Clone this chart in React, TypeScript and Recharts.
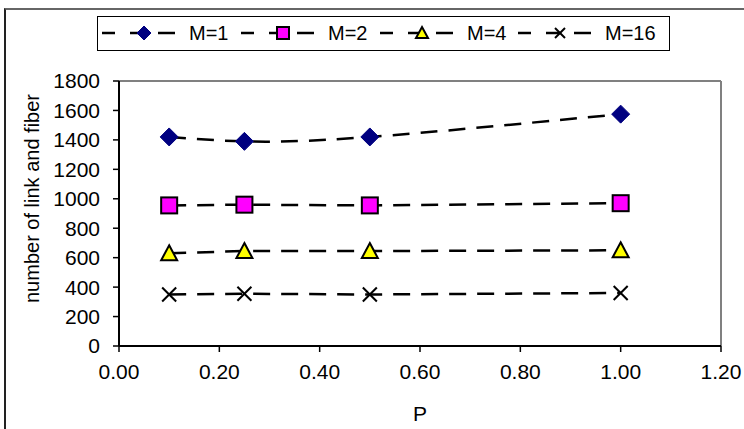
import React from 'react';
import { LineChart, Line, XAxis, YAxis, Legend, ReferenceLine } from 'recharts';

const pValues = [0.1, 0.25, 0.5, 1.0];
const m1 = [1420, 1390, 1420, 1575];
const m2 = [955, 960, 955, 970];
const m4 = [630, 645, 645, 650];
const m16 = [350, 355, 350, 360];

const xTicks = [0, 0.2, 0.4, 0.6, 0.8, 1.0, 1.2];
const yTicks = [0, 200, 400, 600, 800, 1000, 1200, 1400, 1600, 1800];

const seriesNames = ['M=1', 'M=2', 'M=4', 'M=16'];

const data = pValues.map((p, i) => ({ p, m1: m1[i], m2: m2[i], m4: m4[i], m16: m16[i] }));

const FONT = '"Liberation Sans", Arial, sans-serif';
const FS = 20;
const TICK_FS = 21;

// marker shapes, s = half size
const drawMarker = (kind: string, cx: number, cy: number, s: number, key?: any) => {
  if (kind === 'diamond') {
    return (
      <polygon key={key} points={`${cx},${cy - s} ${cx + s},${cy} ${cx},${cy + s} ${cx - s},${cy}`} fill="#000080" stroke="#000080" strokeWidth={1} />
    );
  }
  if (kind === 'square') {
    const h = s - 1;
    return <rect key={key} x={cx - h} y={cy - h} width={h * 2} height={h * 2} fill="#FF00FF" stroke="#000" strokeWidth={2} />;
  }
  if (kind === 'triangle') {
    const h = s - 1;
    return (
      <polygon key={key} points={`${cx},${cy - h} ${cx + h},${cy + h - 1} ${cx - h},${cy + h - 1}`} fill="#FFFF00" stroke="#000" strokeWidth={2} strokeLinejoin="miter" />
    );
  }
  const h = s - 2;
  return (
    <g key={key} stroke="#000" strokeWidth={2}>
      <line x1={cx - h} y1={cy - h} x2={cx + h} y2={cy + h} />
      <line x1={cx - h} y1={cy + h} x2={cx + h} y2={cy - h} />
    </g>
  );
};

const markerKinds = ['diamond', 'square', 'triangle', 'cross'];

const makeDot = (kind: string) => (props: any) => drawMarker(kind, props.cx, props.cy, 9, `${kind}-${props.index}`);

const LegendBox = () => {
  const centers = [144, 283, 422, 560];
  const left = 97;
  return (
    <div style={{ width: 573, height: 35, border: '1px solid #000', boxSizing: 'border-box', background: '#fff' }}>
      <svg width={571} height={33}>
        {centers.map((c, i) => {
          const x = c - left - 1;
          const y = 16;
          return (
            <g key={i}>
              <g stroke="#000" strokeWidth={2.5}>
                <line x1={x - 42} y1={y} x2={x - 29} y2={y} />
                <line x1={x - 14} y1={y} x2={x} y2={y} />
                <line x1={x + 14} y1={y} x2={x + 31} y2={y} />
              </g>
              {drawMarker(markerKinds[i], x, y, 7)}
              <text x={x + 45} y={y + 7} fontSize={FS} fontFamily={FONT} fill="#000">
                {seriesNames[i]}
              </text>
            </g>
          );
        })}
      </svg>
    </div>
  );
};

const App = () => {
  const dash = '17 11';
  return (
    <div style={{ position: 'absolute', left: 0, top: 0, width: 744, height: 429, overflow: 'hidden', background: '#fff' }}>
      <div
        style={{
          position: 'absolute',
          left: 4,
          top: 8,
          width: 800,
          height: 500,
          borderLeft: '2px solid #222',
          borderTop: '2px solid #666',
        }}
      />
      <div style={{ position: 'absolute', left: 0, top: 0 }}>
        <LineChart width={744} height={429} data={data} margin={{ top: 81, right: 23, bottom: 7, left: 0 }}>
          <XAxis
            dataKey="p"
            type="number"
            domain={[0, 1.2]}
            ticks={xTicks}
            interval={0}
            tickFormatter={(v: number) => v.toFixed(2)}
            tickSize={6}
            tickMargin={12}
            height={76}
            axisLine={{ stroke: '#000', strokeWidth: 2 }}
            tickLine={{ stroke: '#000', strokeWidth: 1.5 }}
            tick={{ fill: '#000', fontSize: TICK_FS, fontFamily: FONT }}
            label={{ value: 'P', position: 'insideBottom', offset: 1, fill: '#000', fontSize: TICK_FS, fontFamily: FONT }}
          />
          <YAxis
            type="number"
            domain={[0, 1800]}
            ticks={yTicks}
            interval={0}
            width={119}
            tickSize={6}
            tickMargin={13}
            axisLine={{ stroke: '#000', strokeWidth: 2 }}
            tickLine={{ stroke: '#000', strokeWidth: 1.5 }}
            tick={{ fill: '#000', fontSize: TICK_FS, fontFamily: FONT }}
            label={{
              value: 'number of link and fiber',
              angle: -90,
              position: 'center',
              dx: -28,
              dy: -15,
              fill: '#000',
              fontSize: FS,
              fontFamily: FONT,
            }}
          />
          <ReferenceLine y={1800} stroke="#808080" strokeWidth={2} />
          <ReferenceLine x={1.2} stroke="#808080" strokeWidth={2} />
          <Legend
            layout="horizontal"
            verticalAlign="middle"
            content={() => <LegendBox />}
            wrapperStyle={{ position: 'absolute', top: 16, left: 97, width: 573, height: 35 }}
          />
          <Line dataKey="m1" name={seriesNames[0]} type="natural" stroke="#000" strokeWidth={2.5} strokeDasharray={dash} dot={makeDot('diamond')} isAnimationActive={false} />
          <Line dataKey="m2" name={seriesNames[1]} type="linear" stroke="#000" strokeWidth={2.5} strokeDasharray={dash} dot={makeDot('square')} isAnimationActive={false} />
          <Line dataKey="m4" name={seriesNames[2]} type="linear" stroke="#000" strokeWidth={2.5} strokeDasharray={dash} dot={makeDot('triangle')} isAnimationActive={false} />
          <Line dataKey="m16" name={seriesNames[3]} type="linear" stroke="#000" strokeWidth={2.5} strokeDasharray={dash} dot={makeDot('cross')} isAnimationActive={false} />
        </LineChart>
      </div>
    </div>
  );
};

export default App;
